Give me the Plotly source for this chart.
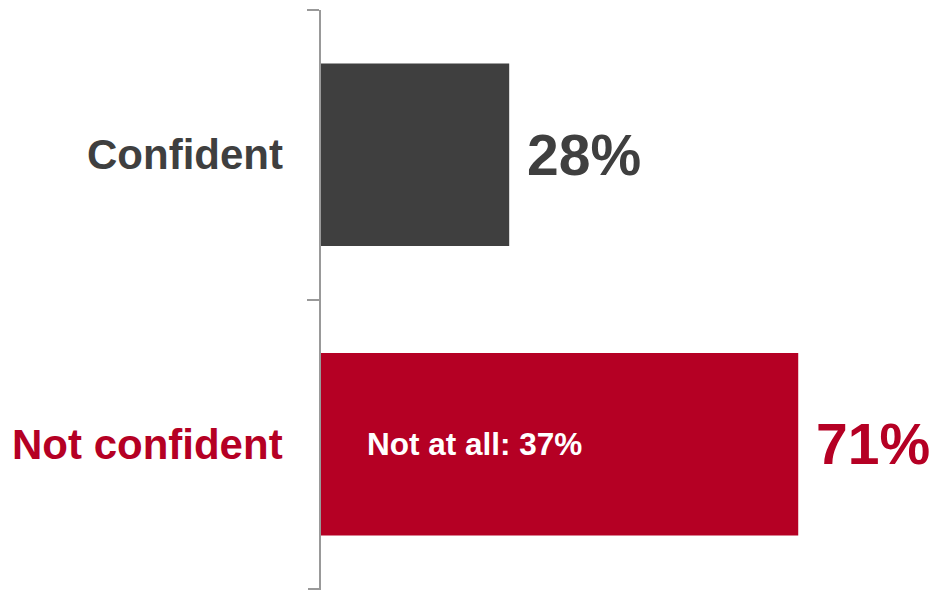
import plotly.graph_objects as go

categories = ["Confident", "Not confident"]
values = [28, 71]
value_labels = ["28%", "71%"]
bar_colors = ["#3f3f3f", "#b50024"]
sub_label = "Not at all: 37%"

FONT = "Liberation Sans, Arial, sans-serif"
AXIS_GREY = "#999999"

fig = go.Figure(
    go.Bar(
        x=values,
        y=categories,
        orientation="h",
        marker=dict(color=bar_colors, line=dict(width=0)),
        hoverinfo="skip",
    )
)

annotations = []
# category labels to the left of the axis, coloured like their bars
for cat, col in zip(categories, bar_colors):
    annotations.append(dict(
        x=0, y=cat, xref="x", yref="y", xanchor="right", yanchor="middle",
        xshift=-36, text=f"<b>{cat}</b>", showarrow=False,
        font=dict(family=FONT, size=42, color=col),
    ))
# value labels just past the end of each bar
for cat, v, lab, col in zip(categories, values, value_labels, bar_colors):
    annotations.append(dict(
        x=v, y=cat, xref="x", yref="y", xanchor="left", yanchor="middle",
        xshift=16, text=f"<b>{lab}</b>", showarrow=False,
        font=dict(family=FONT, size=57, color=col),
    ))
# breakdown note inside the red bar
annotations.append(dict(
    x=0, y=categories[1], xref="x", yref="y", xanchor="left", yanchor="middle",
    xshift=44, text=f"<b>{sub_label}</b>", showarrow=False,
    font=dict(family=FONT, size=31.5, color="white"),
))

# closing tick at the lower end of the category axis
shapes = [dict(
    type="line", xref="paper", yref="y",
    x0=-13 / 613, x1=0, y0=len(categories) - 0.5, y1=len(categories) - 0.5,
    line=dict(color=AXIS_GREY, width=2),
)]

fig.update_layout(
    width=934, height=590,
    margin=dict(l=321, r=0, t=10, b=0),
    paper_bgcolor="white", plot_bgcolor="white",
    bargap=0.37,
    showlegend=False,
    font=dict(family=FONT),
    annotations=annotations,
    shapes=shapes,
    xaxis=dict(range=[0, 91.2], visible=False, showgrid=False, zeroline=False),
    yaxis=dict(
        type="category", autorange="reversed",
        showline=True, linecolor=AXIS_GREY, linewidth=2,
        ticks="outside", ticklen=12, tickcolor=AXIS_GREY, tickwidth=2,
        tickson="boundaries", showticklabels=False, showgrid=False,
        zeroline=False,
    ),
)

fig.write_html("out.html")
